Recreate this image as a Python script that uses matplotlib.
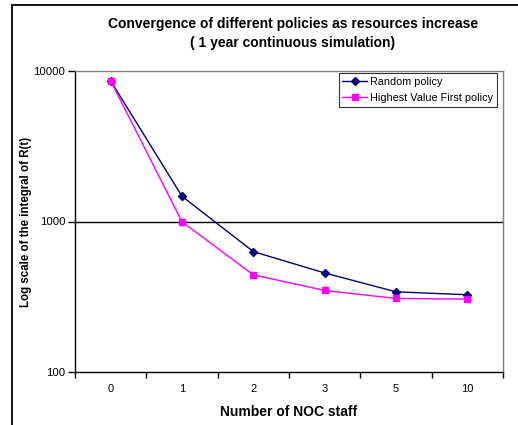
import matplotlib
matplotlib.use("Agg")
import matplotlib.pyplot as plt
from matplotlib.patches import Rectangle
from matplotlib.ticker import FixedLocator, NullLocator, NullFormatter

plt.rcParams['font.family'] = ['Liberation Sans', 'DejaVu Sans']

categories = ["0", "1", "2", "3", "5", "10"]
random_policy = [8600, 1470, 631, 455, 341, 326]
hvf_policy = [8600, 995, 442, 348, 308, 305]
series_labels = ["Random policy", "Highest Value First policy"]

W, H = 518, 425
fig = plt.figure(figsize=(W / 100, H / 100), dpi=100)
ax = fig.add_axes([75 / W, 1 - 372 / H, (503 - 75) / W, (372 - 71) / H])

x = list(range(len(categories)))
ax.plot(x, random_policy, color="#000080", marker="D", markersize=4, lw=1.0,
        label=series_labels[0])
ax.plot(x, hvf_policy, color="#FF00FF", marker="s", markersize=4.5, lw=1.0,
        label=series_labels[1])

ax.set_yscale("log")
ax.set_ylim(100, 10000)
ax.set_xlim(-0.5, len(categories) - 0.5)
ax.yaxis.set_major_locator(FixedLocator([100, 1000, 10000]))
ax.yaxis.set_minor_locator(NullLocator())
ax.yaxis.set_minor_formatter(NullFormatter())
ax.set_yticklabels(["100", "1000", "10000"])
ax.axhline(1000, color="black", lw=1.0, zorder=0)

ax.set_xticks([i - 0.5 for i in range(len(categories) + 1)])
ax.set_xticklabels([])
ax.set_xticks(x, minor=True)
ax.set_xticklabels(categories, minor=True)
ax.tick_params(axis="x", which="major", length=4, direction="out", width=1)
ax.tick_params(axis="x", which="minor", length=0, pad=9, labelsize=8)
ax.tick_params(axis="y", which="major", length=5, direction="out", width=1, pad=2, labelsize=8.2)

for s in ["left", "bottom"]:
    ax.spines[s].set_color("black")
    ax.spines[s].set_linewidth(1.0)
for s in ["top", "right"]:
    ax.spines[s].set_color("#808080")
    ax.spines[s].set_linewidth(1.0)

ax.set_xlabel("Number of NOC staff", fontsize=10, fontweight="bold", labelpad=7.5)
ax.set_ylabel("Log scale of the integral of R(t)", fontsize=8.3, fontweight="bold", labelpad=1)

fig.text(293 / W, 1 - 33.5 / H,
         "Convergence of different policies as resources increase\n( 1 year continuous simulation)",
         ha="center", va="center", fontsize=10, fontweight="bold", linespacing=1.5)

leg = ax.legend(loc="upper right", bbox_to_anchor=(497 / W, 1 - 73 / H),
                bbox_transform=fig.transFigure, fontsize=7.8, frameon=True,
                fancybox=False, edgecolor="black", borderpad=0.35,
                handlelength=2.3, handletextpad=0.25, labelspacing=0.55,
                borderaxespad=0)
leg.get_frame().set_linewidth(0.8)

fig.patches.append(Rectangle((12 / W, -0.05), 1.2, 1 - 5 / H + 0.05,
                             transform=fig.transFigure, fill=False,
                             edgecolor="black", lw=1.3))

fig.savefig("out.png", dpi=100)
